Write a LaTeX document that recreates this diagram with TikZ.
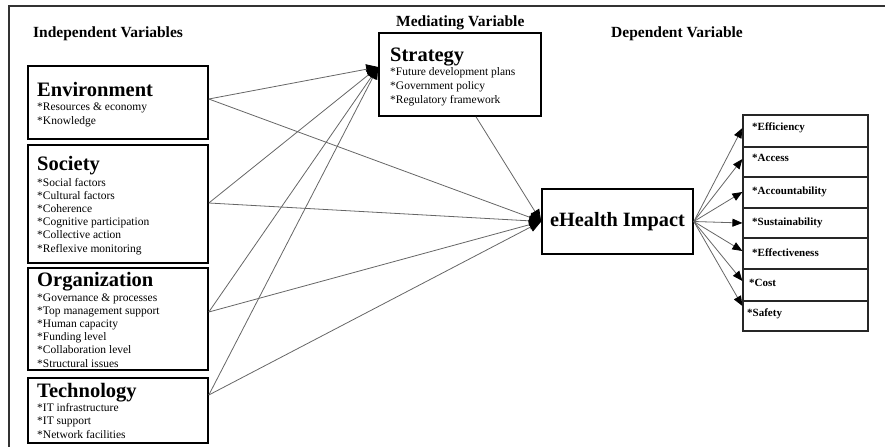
\documentclass[tikz,border=0pt]{standalone}
\usepackage{fontspec}
\setmainfont{Liberation Serif}
\usetikzlibrary{arrows.meta}
\begin{document}
\begin{tikzpicture}[x=1pt,y=-1pt,
  box/.style={draw=black,line width=1.6pt,inner sep=0pt},
  outbox/.style={draw=black!85,line width=1.2pt,inner sep=0pt,minimum width=125pt},
  heading/.style={inner sep=0pt,anchor=base west,font=\fontsize{15.5}{18}\selectfont\bfseries},
  boxtitle/.style={inner sep=0pt,anchor=base west,font=\fontsize{20.5}{23}\selectfont\bfseries},
  % anchored at the baseline of the last line of the list
  items/.style={inner sep=0pt,anchor=base west,align=left,font=\fontsize{11.5}{13.2}\selectfont},
  outlabel/.style={inner sep=0pt,anchor=base west,font=\fontsize{11}{13}\selectfont\bfseries},
  link/.style={draw=black!60,line width=0.8pt},
  bigtip/.style={link,-{Triangle[length=12pt,width=10pt,color=black]}},
  smalltip/.style={link,-{Triangle[length=10pt,width=8pt,color=black]}}]

\useasboundingbox (0,0) rectangle (885,447);

% frame
\draw[line width=2pt,black!80] (885,6) -- (9,6) -- (9,447);

% column headings
\node[heading] (hind) at (33,37) {Independent Variables};
\node[heading] (hmed) at (396,27) {Mediating Variable};
\node[heading] (hdep) at (611,37) {Dependent Variable};

% independent variables
\node[box,minimum width=180pt,minimum height=73pt] (env) at (118,102.5) {};
\node[boxtitle] (envt) at (37,96) {Environment};
\node[items] (envi) at (37,124) {*Resources \& economy\\*Knowledge};

\node[box,minimum width=180pt,minimum height=118pt] (soc) at (118,204) {};
\node[boxtitle] (soct) at (37,170) {Society};
\node[items] (soci) at (37,252) {*Social factors\\*Cultural factors\\*Coherence\\*Cognitive participation\\*Collective action\\*Reflexive monitoring};

\node[box,minimum width=180pt,minimum height=102pt] (org) at (118,319) {};
\node[boxtitle] (orgt) at (37,286) {Organization};
\node[items] (orgi) at (37,367) {*Governance \& processes\\*Top management support\\*Human capacity\\*Funding level\\*Collaboration level\\*Structural issues};

\node[box,minimum width=180pt,minimum height=65pt] (tec) at (118,410.5) {};
\node[boxtitle] (tect) at (37,397) {Technology};
\node[items] (teci) at (37,438) {*IT infrastructure\\*IT support\\*Network facilities};

% mediating variable
\node[box,minimum width=162pt,minimum height=83pt] (str) at (460,74.5) {};
\node[boxtitle] (strt) at (390,61) {Strategy};
\node[items,font=\fontsize{11.5}{14}\selectfont] (stri) at (390,103) {*Future development plans\\*Government policy\\*Regulatory framework};

% impact
\node[box,minimum width=151pt,minimum height=65pt,
      font=\fontsize{20.3}{23}\selectfont\bfseries] (eh) at (617.5,221.5) {eHealth Impact};

% dependent variables
\node[outbox,minimum height=32pt] (o1) at (805.5,131) {};
\node[outbox,minimum height=30pt] (o2) at (805.5,162) {};
\node[outbox,minimum height=31pt] (o3) at (805.5,192.5) {};
\node[outbox,minimum height=30pt] (o4) at (805.5,223) {};
\node[outbox,minimum height=31pt] (o5) at (805.5,253.5) {};
\node[outbox,minimum height=32pt] (o6) at (805.5,285) {};
\node[outbox,minimum height=30pt] (o7) at (805.5,316) {};
\node[outlabel] (l1) at (752,130) {*Efficiency};
\node[outlabel] (l2) at (752,161) {*Access};
\node[outlabel] (l3) at (752,194) {*Accountability};
\node[outlabel] (l4) at (752,225) {*Sustainability};
\node[outlabel] (l5) at (752,256) {*Effectiveness};
\node[outlabel] (l6) at (749,286) {*Cost};
\node[outlabel] (l7) at (747,316) {*Safety};

% connector ends
\coordinate (envout) at ([yshift=3.5pt]env.east);
\coordinate (socout) at ([yshift=1pt]soc.east);
\coordinate (orgout) at ([yshift=7pt]org.east);
\coordinate (tecout) at ([yshift=15.5pt]tec.east);
\coordinate (strin) at ([yshift=7.5pt]str.west);
\coordinate (strout) at ([xshift=16pt]str.south);

% independent -> strategy
\foreach \s in {envout,socout,orgout,tecout}
  \draw[bigtip] (\s) -- (strin);
% independent and strategy -> impact
\foreach \s in {envout,socout,orgout,tecout,strout}
  \draw[bigtip] (\s) -- (eh.west);

% impact -> dependent variables
\draw[smalltip] (eh.east) -- ([yshift=3pt]o1.west);
\draw[smalltip] (eh.east) -- ([yshift=3pt]o2.west);
\draw[smalltip] (eh.east) -- ([yshift=0.5pt]o3.west);
\draw[smalltip] (eh.east) -- (o4.west);
\draw[smalltip] (eh.east) -- ([yshift=2.5pt]o5.west);
\draw[smalltip] (eh.east) -- ([yshift=4pt]o6.west);
\draw[smalltip] (eh.east) -- ([yshift=10pt]o7.west);
\end{tikzpicture}
\end{document}
